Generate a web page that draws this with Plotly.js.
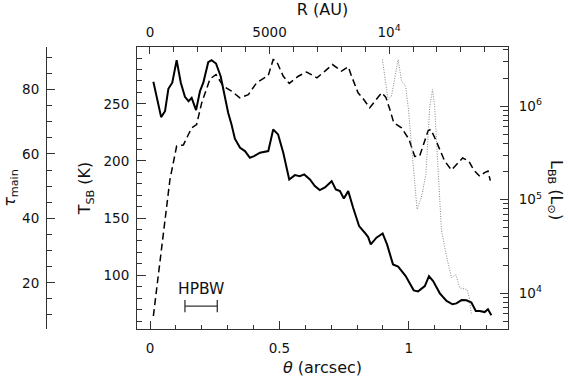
<!DOCTYPE html>
<html>
<head>
<meta charset="utf-8">
<script src="https://cdn.plot.ly/plotly-3.0.1.min.js"></script>
<style>html,body{margin:0;padding:0;background:#fff;}#chart{width:568px;height:377px;}</style>
</head>
<body>
<div id="chart"></div>
<script>
// Brightness temperature profile (solid)
const thetaT = [0.013,0.043,0.058,0.071,0.086,0.103,0.119,0.135,0.149,0.161,0.178,0.193,0.206,0.225,0.238,0.255,0.273,0.290,0.302,0.315,0.328,0.348,0.367,0.386,0.402,0.425,0.457,0.476,0.495,0.515,0.538,0.560,0.579,0.596,0.618,0.637,0.656,0.676,0.702,0.718,0.734,0.749,0.766,0.785,0.808,0.830,0.843,0.853,0.875,0.899,0.916,0.939,0.959,0.988,1.019,1.036,1.062,1.078,1.094,1.120,1.146,1.169,1.184,1.204,1.223,1.242,1.259,1.274,1.293,1.306,1.319];
const tempK = [269.2,238.3,243.5,263.1,268.4,288.1,268.4,256.1,252.3,255.2,244.4,261.0,268.4,286.4,288.1,285.2,274.1,255.2,242.1,231.9,219.4,211.5,208.6,202.8,204.2,207.2,208.6,227.5,223.2,207.2,183.8,187.6,186.7,188.2,183.8,178.0,174.5,176.8,182.3,175.1,173.6,167.2,173.6,159.1,143.0,137.2,133.4,127.0,132.9,136.6,127.0,109.5,107.5,99.3,86.8,85.9,90.6,99.3,94.9,84.2,77.5,74.6,75.4,78.3,78.1,76.1,68.7,68.7,67.8,70.2,65.0];

// Blackbody luminosity (dashed), L_sun
const thetaL = [0.013,0.044,0.077,0.103,0.129,0.161,0.180,0.200,0.232,0.255,0.283,0.315,0.347,0.380,0.412,0.457,0.476,0.489,0.515,0.538,0.573,0.605,0.645,0.676,0.705,0.740,0.766,0.779,0.804,0.826,0.849,0.895,0.911,0.927,0.942,0.972,1.001,1.023,1.042,1.075,1.085,1.100,1.120,1.139,1.165,1.184,1.208,1.232,1.251,1.274,1.293,1.306,1.315];
const lumBB = [5.7e3,2.93e4,1.64e5,3.75e5,3.85e5,5.87e5,6.37e5,1.09e6,1.96e6,2.18e6,1.64e6,1.45e6,1.23e6,1.33e6,1.78e6,2.13e6,3.16e6,3.03e6,2.09e6,1.75e6,2.09e6,2.32e6,2.01e6,2.37e6,2.79e6,2.37e6,2.64e6,2.09e6,1.39e6,1.18e6,9.6e5,1.39e6,1.25e6,9.2e5,6.64e5,5.87e5,4.41e5,2.90e5,2.93e5,5.50e5,5.64e5,4.62e5,3.44e5,2.58e5,2.08e5,2.38e5,2.79e5,2.59e5,2.08e5,1.78e5,1.95e5,2.02e5,1.60e5];

// Main-line opacity (dotted)
const thetaTau = [0.898,0.920,0.933,0.959,0.972,0.988,0.998,1.012,1.032,1.049,1.066,1.081,1.092,1.100,1.113,1.126,1.146,1.165,1.182,1.197,1.225,1.234,1.242];
const tauMain = [89.3,76.9,77.9,89.3,82.6,81.0,74.4,61.4,42.8,46.6,53.6,74.8,80.0,74.8,56.7,36.5,28.1,21.6,22.5,18.4,17.9,15.4,10.1];

// Axis ticks
const thetaTickVals = [0, 0.5, 1];
const thetaTickText = ['0', '0.5', '1'];
const auTickVals = [0, 5000, 10000];
const auTickText = ['0', '5000', '10<sup>4</sup>'];
const lumTickVals = [1e4, 1e5, 1e6];
const lumTickText = ['10<sup>4</sup>', '10<sup>5</sup>', '10<sup>6</sup>'];
const lumMinor = [];
[1e3, 1e4, 1e5, 1e6].forEach(d => { for (let k = 2; k <= 9; k++) lumMinor.push(k * d); });

// HPBW bar
const hpbwCenter = 0.1975, hpbwHalf = 0.0625, hpbwT = 73, hpbwCap = 5.3;

const FONT = 'DejaVu Sans';
const AX = '#333';

const traces = [
  {x: thetaT, y: tempK, xaxis: 'x', yaxis: 'y', mode: 'lines',
   line: {color: '#000', width: 2}, hoverinfo: 'skip', showlegend: false},
  {x: thetaL, y: lumBB, xaxis: 'x', yaxis: 'y2', mode: 'lines',
   line: {color: '#000', width: 1.5, dash: '7px,4px'}, hoverinfo: 'skip', showlegend: false},
  {x: thetaTau, y: tauMain, xaxis: 'x', yaxis: 'y3', mode: 'lines',
   line: {color: '#888', width: 1, dash: '1px,1.5px'}, hoverinfo: 'skip', showlegend: false},
  {x: [], y: [], xaxis: 'x2', yaxis: 'y', mode: 'lines', hoverinfo: 'skip', showlegend: false}
];

const common = {showgrid: false, zeroline: false, showline: true, linecolor: AX, linewidth: 1,
  ticks: 'inside', tickcolor: AX, tickwidth: 1, tickfont: {family: FONT, size: 13.5, color: '#111'}};

const layout = {
  width: 568, height: 377,
  margin: {l: 46, r: 60, t: 47, b: 48, pad: 0},
  paper_bgcolor: '#fff', plot_bgcolor: '#fff',
  font: {family: FONT, color: '#111'},
  xaxis: Object.assign({}, common, {
    domain: [0.197, 1], range: [-0.0502, 1.3834], anchor: 'y',
    tickmode: 'array', tickvals: thetaTickVals, ticktext: thetaTickText, ticklen: 8,
    minor: {dtick: 0.1, tick0: 0, ticks: 'inside', ticklen: 4.5, tickcolor: AX},
    ticklabelstandoff: 7,
    title: {text: '<i>θ</i> (arcsec)', font: {family: FONT, size: 16, color: '#111'}, standoff: 9}
  }),
  xaxis2: Object.assign({}, common, {
    overlaying: 'x', side: 'top', anchor: 'y', range: [-543, 14973],
    tickmode: 'array', tickvals: auTickVals, ticktext: auTickText, ticklen: 7,
    minor: {dtick: 1000, tick0: 0, ticks: 'inside', ticklen: 4.5, tickcolor: AX},
    ticklabelstandoff: 4,
    title: {text: 'R (AU)', font: {family: FONT, size: 16, color: '#111'}, standoff: 6}
  }),
  yaxis: Object.assign({}, common, {
    range: [53.0, 299.65], anchor: 'x', side: 'left',
    tickmode: 'linear', tick0: 0, dtick: 50, ticklen: 9,
    minor: {dtick: 10, tick0: 0, ticks: 'inside', ticklen: 5, tickcolor: AX},
    ticklabelstandoff: 4,
    title: {text: 'T<sub>SB</sub> (K)', font: {family: FONT, size: 16, color: '#111'}, standoff: 8}
  }),
  yaxis2: Object.assign({}, common, {
    type: 'log', range: [3.617, 6.633], overlaying: 'y', side: 'right', anchor: 'x',
    tickmode: 'array', tickvals: lumTickVals, ticktext: lumTickText, ticklen: 8,
    minor: {tickmode: 'array', tickvals: lumMinor, ticks: 'inside', ticklen: 5, tickcolor: AX},
    ticklabelstandoff: 7
  }),
  yaxis3: Object.assign({}, common, {
    range: [5.65, 93.2], overlaying: 'y', side: 'left', anchor: 'free', position: 0,
    tickmode: 'linear', tick0: 0, dtick: 20, ticklen: 8,
    minor: {dtick: 5, tick0: 0, ticks: 'inside', ticklen: 4.5, tickcolor: AX},
    ticklabelstandoff: 4,
    title: {text: '<i>τ</i><sub>main</sub>', font: {family: FONT, size: 16, color: '#111'}, standoff: 8}
  }),
  shapes: [
    {type: 'line', xref: 'x', yref: 'y', x0: hpbwCenter - hpbwHalf, x1: hpbwCenter + hpbwHalf, y0: hpbwT, y1: hpbwT, line: {color: '#333', width: 1.3}},
    {type: 'line', xref: 'x', yref: 'y', x0: hpbwCenter - hpbwHalf, x1: hpbwCenter - hpbwHalf, y0: hpbwT - hpbwCap, y1: hpbwT + hpbwCap, line: {color: '#333', width: 1.3}},
    {type: 'line', xref: 'x', yref: 'y', x0: hpbwCenter + hpbwHalf, x1: hpbwCenter + hpbwHalf, y0: hpbwT - hpbwCap, y1: hpbwT + hpbwCap, line: {color: '#333', width: 1.3}}
  ],
  annotations: [
    {text: 'HPBW', xref: 'x', yref: 'y', x: hpbwCenter, y: hpbwT + 15, showarrow: false,
     font: {family: FONT, size: 15.5, color: '#111'}},
    {text: 'L<sub>BB</sub> (L<sub>⊙</sub>)', xref: 'paper', yref: 'paper', x: 1.1017, y: 0.493,
     xanchor: 'center', yanchor: 'middle',
     textangle: 90, showarrow: false, font: {family: FONT, size: 16, color: '#111'}}
  ]
};

Plotly.newPlot('chart', traces, layout, {displayModeBar: false, staticPlot: true});
</script>
</body>
</html>
